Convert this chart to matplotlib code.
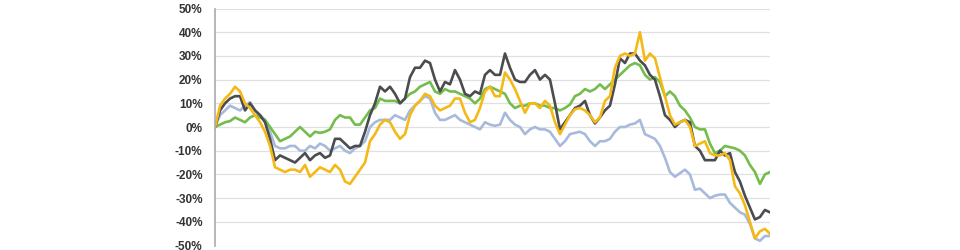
import numpy as np
import matplotlib
matplotlib.use('Agg')
import matplotlib.pyplot as plt
from matplotlib.ticker import FuncFormatter

# cumulative return (%) per period
dark = [0, 7, 10, 12, 13, 13, 7, 10, 7, 5, 2, -5, -14, -12, -13, -14, -15, -13, -11, -14,
        -12, -11, -13, -12, -5, -5, -7, -9, -8, -8, -2, 5, 10, 17, 15, 17, 14, 10, 12, 21,
        25, 25, 28, 27, 20, 15, 19, 18, 24, 20, 14, 13, 15, 14, 22, 24, 22, 22, 31, 25,
        20, 19, 19, 22, 24, 20, 22, 20, 10, -1, 2, 5, 8, 9, 11, 5, 1.5, 4, 7, 9,
        18, 29, 27, 31, 31, 28, 26, 22, 20, 13, 5, 3, 0, 2, 3, 2, -8, -10, -14, -14,
        -14, -10, -12, -11, -19, -23, -29, -34, -39, -38, -35, -36]
gold = [0, 9, 12, 14, 17, 15, 10, 8, 5, 2, -2, -8, -17, -18, -19, -18, -18, -19, -16, -21,
        -19, -17, -18, -19, -16, -18, -23, -24, -21, -18, -15, -6, -3, 1, 3, 2, -2, -5, -3, 5,
        9, 11, 14, 13, 9, 7, 8, 9, 12, 12, 6, 2, 3, 8, 15, 17, 13, 13, 23, 20,
        16, 11, 6, 10, 10, 8, 11, 9, 2, -3, 1, 5, 7.5, 8, 7, 5, 2, 4, 11, 13,
        25, 30, 31, 30, 31, 40, 28, 31, 29, 21, 13, 5, 1, 2, 3, 0, -8, -7, -6, -11,
        -12, -12, -11, -14, -25, -28, -33, -40, -47, -44, -43, -45]
green = [0, 1, 2, 2.5, 4, 3, 2, 4, 5, 4, 3, 0, -3, -6, -5, -4, -2, 0, -2, -4,
         -2, -2.5, -2, -1, 3, 5, 4, 4, 1, 1, 4, 7, 8, 12, 11, 11, 11, 10, 12, 14,
         15, 17, 18, 19, 15, 14, 16, 15, 15, 14, 13, 12, 10, 12, 16, 17, 16, 15, 14, 10,
         8, 9, 9, 10, 10, 9, 9, 8, 8, 7, 8, 9.5, 13, 14, 16, 15, 16, 18, 16, 18,
         20, 22, 24, 26, 27, 26, 22, 20, 21, 19, 13, 15, 13, 9, 7, 4, 0, -1, -1, -7,
         -11, -10, -8, -8.5, -9, -10, -12, -16, -19, -24, -20, -19]
blue = [0, 5, 7, 9, 8, 7, 9, 10.5, 7, 5, 3, -2, -8, -9, -9, -8, -8, -10, -10, -8,
        -9, -7, -8, -10, -9, -8, -10, -11, -9, -8, -6, 0, 2, 3, 3, 3, 5, 4, 3, 7,
        9, 11, 13, 12, 6, 3, 3, 4, 5, 3, 2, 1, 0, -1, 2, 1, 0.5, 1, 6, 3,
        1, 0, -3, -1, 0, -1, -1, -2, -5, -8, -6, -3, -2.5, -2, -3, -6, -8, -6, -6, -5,
        -2, 0, 0, 1, 1.5, 3, -3, -4, -5, -8, -13, -19, -21, -19.5, -18, -20, -26.5, -26, -28, -30,
        -29, -28.5, -28.5, -32, -34, -36, -37, -41, -47, -48, -46, -46]

series = [(blue, '#a7badb'), (green, '#74bd4c'), (dark, '#4a4c50'), (gold, '#f5b917')]

fig = plt.figure(figsize=(9.6, 2.5), dpi=100)
ax = fig.add_axes([0.224, 0.018, 0.578, 0.948])

for vals, col in series:
    ax.plot(np.arange(len(vals)), vals, color=col, lw=1.9, solid_joinstyle='round')

ax.set_xlim(0, len(dark) - 1)
ax.set_ylim(-50, 50)
ax.set_yticks(np.arange(-50, 51, 10))
ax.yaxis.set_major_formatter(FuncFormatter(lambda v, p: f'{int(v)}%'))
ax.set_xticks([])
ax.grid(axis='y', color='#e0e0e0', lw=0.9)
ax.set_axisbelow(True)
for s in ['top', 'right', 'bottom']:
    ax.spines[s].set_visible(False)
ax.spines['left'].set_color('#aaaaaa')
ax.spines['left'].set_linewidth(1.2)
ax.tick_params(axis='y', length=0, pad=9, labelsize=8.5, labelcolor='#333333')
for lab in ax.get_yticklabels():
    lab.set_fontfamily('Liberation Sans')
    lab.set_fontweight('bold')

fig.savefig('out.png', dpi=100)
